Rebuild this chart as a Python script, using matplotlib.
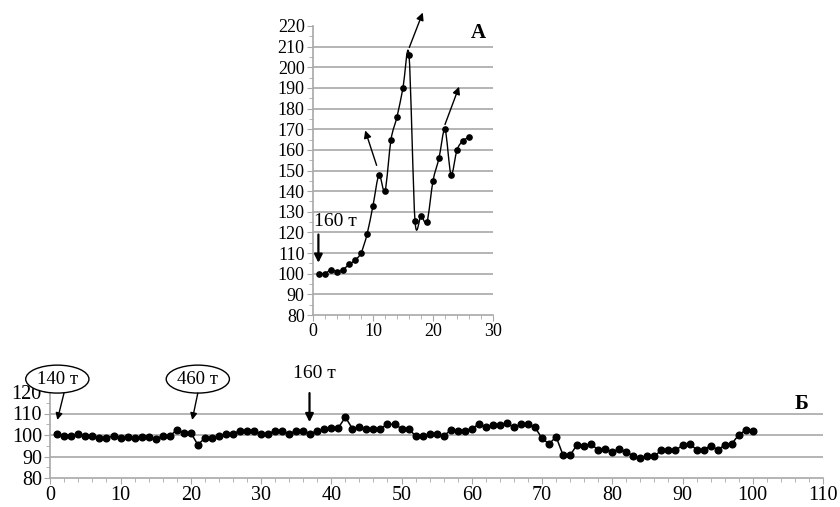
import numpy as np
import matplotlib.pyplot as plt
from matplotlib.path import Path
from matplotlib.patches import PathPatch, Ellipse
from matplotlib.ticker import MultipleLocator

plt.rcParams['font.family'] = ['Liberation Serif', 'DejaVu Serif']

# ---- panel A: price index after 160 t release ----
a_x = list(range(1, 27))
a_y = [100, 100, 102, 101, 102, 104.5, 106.5, 110, 119, 133, 148, 140, 165,
       176, 190, 206, 125.5, 128, 125, 145, 156, 170, 148, 160, 164.5, 166]
a_yticks = list(range(80, 221, 10))
a_xticks = [0, 10, 20, 30]

# ---- panel B: long series ----
b_x = list(range(1, 101))
b_y = [100.5, 99.5, 99.5, 100.3, 99.7, 99.7, 98.5, 98.5, 99.7, 98.8,
       99.2, 98.5, 99.2, 99.2, 98.2, 99.5, 99.5, 102.3, 101, 101,
       95.5, 98.5, 98.5, 99.7, 100.5, 100.5, 102, 102, 102, 100.5,
       100.5, 102, 102, 100.5, 102, 102, 100.5, 102, 102.7, 103.3,
       103.3, 108.3, 103, 103.5, 102.7, 102.7, 103, 105, 105, 103,
       103, 99.5, 99.5, 100.5, 100.5, 99.5, 102.3, 102, 102, 103,
       105, 103.5, 104.8, 104.8, 105.6, 103.5, 105, 105, 103.5, 98.5,
       95.8, 99.2, 90.6, 90.6, 95.5, 95, 95.9, 92.9, 93.5, 92.1,
       93.6, 92.1, 90.2, 89.1, 90.2, 90.2, 92.9, 92.9, 92.9, 95.2,
       95.9, 93.2, 93.2, 95, 93.2, 95.2, 95.9, 100, 102.3, 102]
b_yticks = [80, 90, 100, 110, 120]
b_xticks = list(range(0, 111, 10))

GRID = '#a8a8a8'


def smooth_path(xs, ys, k=7.0):
    # Excel-like smoothed line: cubic Bezier segments between the points
    p = np.column_stack([xs, ys]).astype(float)
    n = len(p)
    verts = [p[0]]
    codes = [Path.MOVETO]
    for i in range(n - 1):
        p0 = p[i - 1] if i > 0 else p[i]
        p3 = p[i + 2] if i + 2 < n else p[i + 1]
        c1 = p[i] + (p[i + 1] - p0) / k
        c2 = p[i + 1] - (p3 - p[i]) / k
        verts += [c1, c2, p[i + 1]]
        codes += [Path.CURVE4] * 3
    return Path(verts, codes)


def style_axes(ax, size):
    for s in ('top', 'right'):
        ax.spines[s].set_visible(False)
    for s in ('left', 'bottom'):
        ax.spines[s].set_color(GRID)
        ax.spines[s].set_linewidth(1.2)
    ax.tick_params(which='both', direction='out', color=GRID, labelsize=size,
                   pad=2)
    ax.tick_params(which='major', length=4)
    ax.tick_params(which='minor', length=3)
    ax.grid(axis='y', color=GRID, lw=1.2)
    ax.set_axisbelow(True)
    gl = ax.get_ygridlines()
    gl[0].set_visible(False)
    gl[-1].set_visible(False)


fig = plt.figure(figsize=(8.4, 5.07), dpi=100)

# ============================================================
# Panel A
# ============================================================
axA = fig.add_axes([313 / 840, 1 - 315 / 507, 180 / 840, 289 / 507])
axA.set_xlim(0, 30)
axA.set_ylim(80, 220)
axA.set_xticks(a_xticks)
axA.set_yticks(a_yticks)
axA.xaxis.set_minor_locator(MultipleLocator(2))
axA.yaxis.set_minor_locator(MultipleLocator(5))
style_axes(axA, 13)
axA.add_patch(PathPatch(smooth_path(a_x, a_y), fill=False, color='black',
                        lw=1.0))
axA.plot(a_x, a_y, 'o', color='black', ms=3.8)

arrA = dict(arrowstyle='-|>', color='black', lw=1.0, mutation_scale=11,
            shrinkA=0, shrinkB=0)
axA.annotate('', xy=(8.7, 169.4), xytext=(10.6, 152.5), arrowprops=arrA)
axA.annotate('', xy=(18.3, 226.5), xytext=(16.05, 209.6), arrowprops=arrA,
             annotation_clip=False)
axA.annotate('', xy=(24.35, 190.6), xytext=(22.0, 172.3), arrowprops=arrA)

axA.text(3.8, 125.2, '160 т', fontsize=14, ha='center', va='center')
axA.annotate('', xy=(0.9, 105.3), xytext=(0.9, 119),
             arrowprops=dict(arrowstyle='-|>', color='black', lw=1.6,
                             mutation_scale=12, shrinkA=0, shrinkB=0))
axA.text(27.5, 216.5, 'А', fontsize=15, fontweight='bold', ha='center',
         va='center')

# ============================================================
# Panel Б
# ============================================================
axB = fig.add_axes([50.3 / 840, 1 - 478 / 507, 772.7 / 840, 86 / 507])
axB.set_xlim(0, 110)
axB.set_ylim(80, 120)
axB.set_xticks(b_xticks)
axB.set_yticks(b_yticks)
axB.xaxis.set_minor_locator(MultipleLocator(2))
axB.yaxis.set_minor_locator(MultipleLocator(5))
style_axes(axB, 14.5)
axB.plot(b_x, b_y, '-o', color='black', lw=1.1, ms=4.8)

# oval labels above the start points
for cx, label in [(1.0, '140 т'), (21.0, '460 т')]:
    axB.add_patch(Ellipse((cx, 126), 9.0, 13.0, fc='white', ec='black',
                          lw=1.0, clip_on=False, zorder=3))
    axB.text(cx, 126, label, fontsize=13.5, ha='center', va='center',
             clip_on=False, zorder=4)
arrB = dict(arrowstyle='-|>', color='black', lw=1.0, mutation_scale=10,
            shrinkA=0, shrinkB=0)
axB.annotate('', xy=(1.0, 107), xytext=(1.95, 119.5), arrowprops=arrB,
             annotation_clip=False)
axB.annotate('', xy=(20.2, 107), xytext=(21.0, 119.5), arrowprops=arrB,
             annotation_clip=False)

axB.text(37.6, 128.4, '160 т', fontsize=14, ha='center', va='center',
         clip_on=False)
axB.annotate('', xy=(36.9, 106), xytext=(36.9, 119.5),
             arrowprops=dict(arrowstyle='-|>', color='black', lw=1.6,
                             mutation_scale=12, shrinkA=0, shrinkB=0),
             annotation_clip=False)
axB.text(107, 114.4, 'Б', fontsize=15, fontweight='bold', ha='center',
         va='center')

fig.savefig('out.png', dpi=100)
